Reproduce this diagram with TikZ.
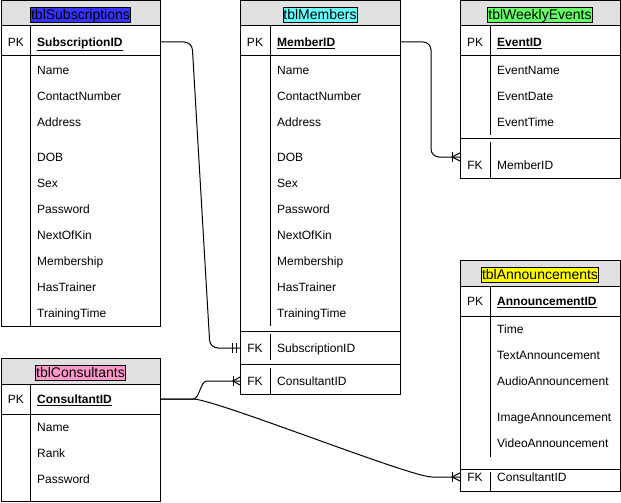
\documentclass[tikz,border=0pt]{standalone}
\usepackage{fontspec}
\setmainfont{Liberation Sans}
\usepackage{tikz}

\definecolor{hdrgray}{HTML}{E0E0E0}
\definecolor{subsblue}{HTML}{3333FF}
\definecolor{memcyan}{HTML}{66FFFF}
\definecolor{evgreen}{HTML}{66FF66}
\definecolor{annyellow}{HTML}{FFFF00}
\definecolor{conpink}{HTML}{FF99CC}

\tikzset{
  tbl/.style={draw, line width=1pt, anchor=north west, inner sep=0pt},
  hdr/.style={fill=hdrgray},
  title/.style={draw, line width=0.8pt, inner xsep=0.5pt, inner ysep=0pt,
    text height=12pt, text depth=3.5pt, font=\fontsize{14}{16}\selectfont},
  field/.style={anchor=west, inner sep=0pt, text height=9pt, text depth=0pt,
    font=\fontsize{12}{14}\selectfont},
  keytag/.style={inner sep=0pt, text height=9pt, text depth=0pt,
    font=\fontsize{12}{14}\selectfont},
  rule/.style={line width=1pt},
  link/.style={line width=1pt, rounded corners=8pt},
}

\begin{document}
\begin{tikzpicture}[x=1pt,y=-1pt]
\useasboundingbox (0,0) rectangle (621,503);

% tblSubscriptions
\fill[hdr] (1,0.5) rectangle (160,26);
\node[tbl, minimum width=159pt, minimum height=325.5pt] (subs) at (1,0.5) {};
\draw[rule] (1,26) -- (160,26);
\draw[rule] (1,56) -- (160,56);
\draw[rule] (30,26) -- (30,326);
\node[title, fill=subsblue] (subsTitle) at (80.5,15) {tblSubscriptions};
\node[keytag] (subsPK) at (16,42) {PK};
\node[field] (subsID) at (37,42) {\underline{\textbf{SubscriptionID}}};
\node[field] (subsName) at (37,70) {Name};
\node[field] (subsContact) at (37,96) {ContactNumber};
\node[field] (subsAddress) at (37,122) {Address};
\node[field] (subsDOB) at (37,157) {DOB};
\node[field] (subsSex) at (37,183) {Sex};
\node[field] (subsPass) at (37,209) {Password};
\node[field] (subsKin) at (37,235) {NextOfKin};
\node[field] (subsMember) at (37,261) {Membership};
\node[field] (subsTrainer) at (37,287) {HasTrainer};
\node[field] (subsTime) at (37,313) {TrainingTime};

% tblMembers
\fill[hdr] (240,0.5) rectangle (400,26);
\node[tbl, minimum width=160pt, minimum height=393.5pt] (mem) at (240,0.5) {};
\draw[rule] (240,26) -- (400,26);
\draw[rule] (240,56) -- (400,56);
\draw[rule] (240,331) -- (400,331);
\draw[rule] (240,364) -- (400,364);
\draw[rule] (270,26) -- (270,326);
\draw[rule] (270,334) -- (270,360);
\draw[rule] (270,368) -- (270,394);
\node[title, fill=memcyan] (memTitle) at (320,15) {tblMembers};
\node[keytag] (memPK) at (255,42) {PK};
\node[field] (memID) at (277,42) {\underline{\textbf{MemberID}}};
\node[field] (memName) at (277,70) {Name};
\node[field] (memContact) at (277,96) {ContactNumber};
\node[field] (memAddress) at (277,122) {Address};
\node[field] (memDOB) at (277,157) {DOB};
\node[field] (memSex) at (277,183) {Sex};
\node[field] (memPass) at (277,209) {Password};
\node[field] (memKin) at (277,235) {NextOfKin};
\node[field] (memMember) at (277,261) {Membership};
\node[field] (memTrainer) at (277,287) {HasTrainer};
\node[field] (memTime) at (277,313) {TrainingTime};
\node[keytag] (memFK1) at (255,348) {FK};
\node[field] (memSubID) at (277,348) {SubscriptionID};
\node[keytag] (memFK2) at (255,381) {FK};
\node[field] (memConID) at (277,381) {ConsultantID};

% tblWeeklyEvents
\fill[hdr] (460,0.5) rectangle (620,26);
\node[tbl, minimum width=160pt, minimum height=177.5pt] (ev) at (460,0.5) {};
\draw[rule] (460,26) -- (620,26);
\draw[rule] (460,56) -- (620,56);
\draw[rule] (460,138) -- (620,138);
\draw[rule] (490,26) -- (490,135);
\draw[rule] (490,142) -- (490,178);
\node[title, fill=evgreen] (evTitle) at (540,15) {tblWeeklyEvents};
\node[keytag] (evPK) at (475,42) {PK};
\node[field] (evID) at (497,42) {\underline{\textbf{EventID}}};
\node[field] (evName) at (497,70) {EventName};
\node[field] (evDate) at (497,96) {EventDate};
\node[field] (evTime) at (497,122) {EventTime};
\node[keytag] (evFK) at (475,165) {FK};
\node[field] (evMemID) at (497,165) {MemberID};
\coordinate (evIn) at (460,157);

% tblAnnouncements
\fill[hdr] (460,260) rectangle (620,286);
\node[tbl, minimum width=160pt, minimum height=231pt] (ann) at (460,260) {};
\draw[rule] (460,286) -- (620,286);
\draw[rule] (460,316) -- (620,316);
\draw[rule] (460,469) -- (620,469);
\draw[rule] (490,286) -- (490,457);
\draw[rule] (490,472) -- (490,491);
\node[title, fill=annyellow] (annTitle) at (540,275) {tblAnnouncements};
\node[keytag] (annPK) at (475,301) {PK};
\node[field] (annID) at (497,301) {\underline{\textbf{AnnouncementID}}};
\node[field] (annTime) at (497,329) {Time};
\node[field] (annText) at (497,355) {TextAnnouncement};
\node[field] (annAudio) at (497,381) {AudioAnnouncement};
\node[field] (annImage) at (497,417) {ImageAnnouncement};
\node[field] (annVideo) at (497,443) {VideoAnnouncement};
\node[keytag] (annFK) at (475,477) {FK};
\node[field] (annConID) at (497,477) {ConsultantID};

% tblConsultants
\fill[hdr] (1,358) rectangle (160,384);
\node[tbl, minimum width=159pt, minimum height=143pt] (con) at (1,358) {};
\draw[rule] (1,384) -- (160,384);
\draw[rule] (1,414) -- (160,414);
\draw[rule] (30,384) -- (30,501);
\node[title, fill=conpink] (conTitle) at (80.5,373) {tblConsultants};
\node[keytag] (conPK) at (16,399) {PK};
\node[field] (conID) at (37,399) {\underline{\textbf{ConsultantID}}};
\node[field] (conName) at (37,427) {Name};
\node[field] (conRank) at (37,453) {Rank};
\node[field] (conPass) at (37,479) {Password};

% relations
\draw[link] (subsID -| subs.east) -- (192,42) -- (210,348) -- (memSubID -| mem.west);
\draw[rule] (232,343) -- (232,353);
\draw[rule] (236,343) -- (236,353);

\draw[link] (memID -| mem.east) -- (431,42) -- (431,157) -- (evIn);
\draw[rule] (452,152) -- (452,162);
\draw[rule] (460,153) -- (452,157) -- (460,161);

\draw[link] (conID -| con.east) -- (185,399) .. controls (200,399) and (200,381) .. (215,381) -- (memConID -| mem.west);
\draw[rule] (233,376) -- (233,386);
\draw[rule] (240,377) -- (233,381) -- (240,385);

\draw[link] (conID -| con.east) -- (185,399) .. controls (215,399) and (410,477) .. (440,477) -- (annConID -| ann.west);
\draw[rule] (452,472) -- (452,482);
\draw[rule] (460,473) -- (452,477) -- (460,481);
\end{tikzpicture}
\end{document}
